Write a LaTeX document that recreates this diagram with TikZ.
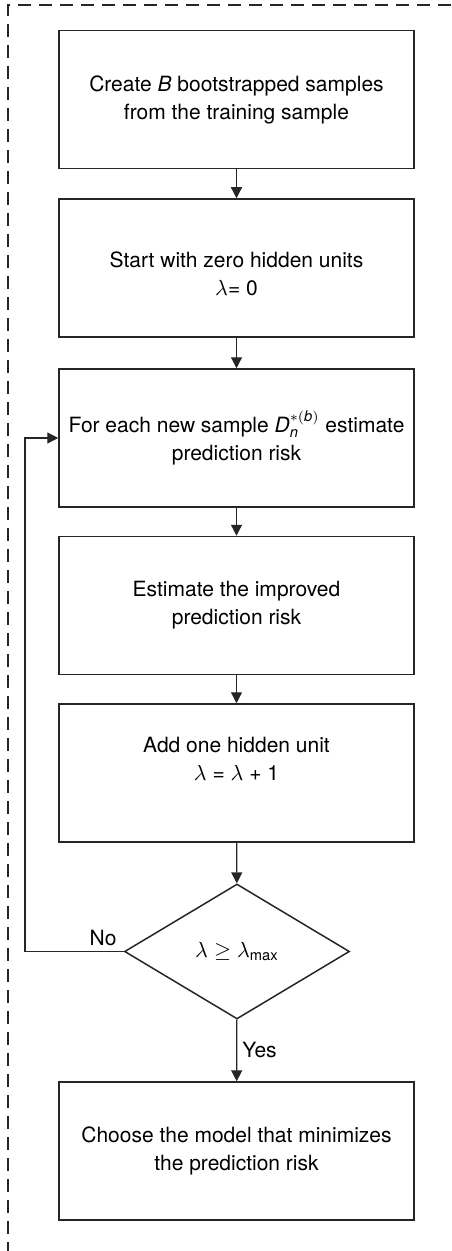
\documentclass[tikz,border=0pt]{standalone}
\usepackage{fontspec}
\setmainfont{TeX Gyre Heros}
\usepackage{amsmath}
\usepackage{tikz}
\usetikzlibrary{shapes, arrows.meta, positioning}

\begin{document}
\begin{tikzpicture}[
  x=0.5pt, y=-0.5pt,
  procbox/.style={draw=black!85, line width=0.75pt, minimum width=177.5pt, minimum height=69pt, align=center, inner sep=3pt, font=\fontsize{10.5}{14}\selectfont},
  testdiam/.style={draw=black!85, line width=0.75pt, diamond, aspect=1.667, minimum width=112.5pt, minimum height=67.5pt, inner sep=0pt, font=\fontsize{10.5}{14}\selectfont},
  flow/.style={draw=black!85, line width=0.65pt, -{Triangle[length=5.5pt, width=5.5pt]}},
  lbl/.style={font=\fontsize{10.5}{14}\selectfont, inner sep=2.5pt}
]
  \useasboundingbox (0,0) rectangle (451,1251);
  \draw[black!85, line width=0.6pt, dash pattern=on 6.5pt off 4pt] (451,5) -- (8,5) -- (8,1251);

  \node[procbox] (create) at (236.5, 99.5) {Create \textit{B} bootstrapped samples\\from the training sample};
  \node[procbox] (start) at (236.5, 268) {\mbox{}\\Start with zero hidden units\\$\lambda$= 0};
  \node[procbox] (predict) at (236.5, 438) {For each new sample $\textit{D}_{\textit{n}}^{*(\textit{b})}$ estimate\\prediction risk};
  \node[procbox] (improve) at (236.5, 605.5) {Estimate the improved\\prediction risk};
  \node[procbox] (addunit) at (236.5, 773) {Add one hidden unit\\$\lambda$ = $\lambda$ + 1\\\mbox{}};
  \node[testdiam] (check) at (237, 951.5) {$\lambda \geq \lambda_{\text{max}}$};
  \node[procbox] (choose) at (236.5, 1151) {Choose the model that minimizes\\the prediction risk};
  \coordinate (back) at (25, 951.5);

  \draw[flow] (create) -- (start);
  \draw[flow] (start) -- (predict);
  \draw[flow] (predict) -- (improve);
  \draw[flow] (improve) -- (addunit);
  \draw[flow] (addunit) -- (check);
  \draw[flow] (check) -- node[lbl, right] {Yes} (choose);
  \draw[flow] (check.west) -- node[lbl, above, pos=0.21] {No} (back) |- (predict.west);
\end{tikzpicture}
\end{document}
